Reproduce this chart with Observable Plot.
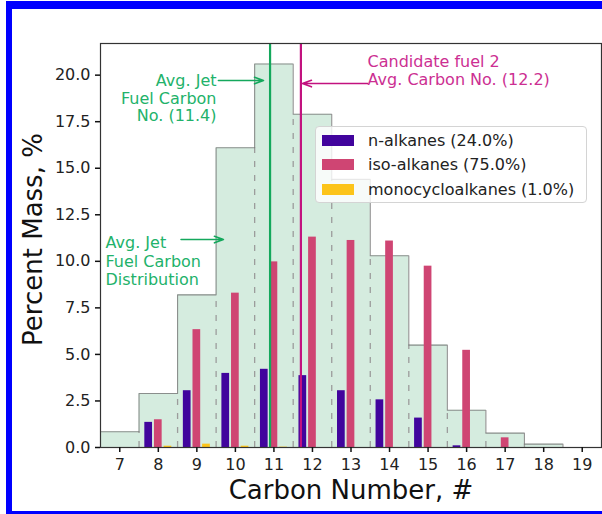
<!DOCTYPE html>
<html><head><meta charset="utf-8">
<script src="https://cdn.jsdelivr.net/npm/d3@7"></script>
<script src="https://cdn.jsdelivr.net/npm/@observablehq/plot@0.6"></script>
<style>
body{margin:0;background:#fff;}
#wrap{position:relative;width:602px;height:514px;overflow:hidden;font-family:"DejaVu Sans",sans-serif;}
#wrap svg{position:absolute;left:0;top:0;}
.bd{position:absolute;background:#0000ff;}
#legend{position:absolute;left:315px;top:126px;width:270px;height:75px;border:1px solid #d4d4d4;border-radius:4px;background:rgba(255,255,255,0.8);}
.row{position:absolute;left:0;height:20px;display:flex;align-items:center;font-size:16px;color:#222;white-space:nowrap;}
.sw{width:32px;height:11px;margin-left:6px;margin-right:14px;}
</style></head><body><div id="wrap"></div>
<script>
// ---- data ----
const carbonNumbers = [7, 8, 9, 10, 11, 12, 13, 14, 15, 16, 17, 18, 19];
const jetFuelDist   = [0.85, 2.9, 8.2, 16.1, 20.6, 17.9, 14.4, 10.3, 5.5, 2.0, 0.77, 0.18, 0.0];
const nAlkanes      = [0, 1.35, 3.05, 3.98, 4.2, 3.86, 3.05, 2.56, 1.58, 0.09, 0, 0, 0];
const isoAlkanes    = [0, 1.49, 6.33, 8.29, 9.97, 11.3, 11.12, 11.09, 9.74, 5.22, 0.52, 0, 0];
const monocyclo     = [0, 0.07, 0.18, 0.07, 0.02, 0, 0, 0, 0, 0, 0, 0, 0];
const seriesNames   = ["n-alkanes (24.0%)", "iso-alkanes (75.0%)", "monocycloalkanes (1.0%)"];
const seriesColors  = ["#41049d", "#cf4573", "#fcc41a"];
const avgJetCarbon = 11.4;
const candidateCarbon = 12.2;
const yTicks = [0, 2.5, 5, 7.5, 10, 12.5, 15, 17.5, 20];
const xTicks = carbonNumbers;
const annGreen1 = "Avg. Jet\nFuel Carbon\nNo. (11.4)";
const annGreen2 = "Avg. Jet\nFuel Carbon\nDistribution";
const annMagenta = "Candidate fuel 2\nAvg. Carbon No. (12.2)";

// ---- derived tables ----
const binOffset = 0.5; // lines drawn at bin-edge convention of the original
const stepPts = [];
carbonNumbers.forEach((c, i) => {
  stepPts.push({x: c - 0.5, y: jetFuelDist[i]});
  stepPts.push({x: c + 0.5, y: jetFuelDist[i]});
});
const edges = carbonNumbers.slice(0, -1).map((c, i) => ({x: c + 0.5, top: Math.min(jetFuelDist[i], jetFuelDist[i + 1])})).filter(d => d.top > 0);
const series = [nAlkanes, isoAlkanes, monocyclo];
const offsets = [-0.25, 0, 0.25];
const bars = [];
series.forEach((vals, s) => carbonNumbers.forEach((c, i) => {
  if (vals[i] > 0) bars.push({c, v: vals[i], s: seriesNames[s], off: offsets[s]});
}));

const green = "#14a85c", greenText = "#22b26a", mag = "#c2127f", magText = "#cc2f92";

const chart = Plot.plot({
  width: 602, height: 514,
  marginLeft: 100, marginRight: 1, marginTop: 43, marginBottom: 67,
  style: {fontFamily: "DejaVu Sans", fontSize: "16px", color: "#222", background: "transparent"},
  x: {domain: [6.5, 19.5], ticks: xTicks, tickFormat: d3.format("d"), tickSize: 5, tickPadding: 6, label: null},
  y: {domain: [0, 21.7], ticks: yTicks, tickFormat: d3.format(".1f"), tickSize: 5, tickPadding: 5, label: null},
  color: {domain: seriesNames, range: seriesColors},
  marks: [
    Plot.areaY(stepPts, {x: "x", y1: 0, y2: "y", fill: "#d5ecdf", curve: "linear"}),
    Plot.ruleX(edges, {x: "x", y1: 0, y2: "top", stroke: "#9c9c9c", strokeWidth: 1.3, strokeDasharray: "6,8"}),
    Plot.lineY(stepPts, {x: "x", y: "y", stroke: "#777", strokeWidth: 1.1, strokeOpacity: 0.8}),
    Plot.rectY(bars, {x1: d => d.c + d.off - 0.1, x2: d => d.c + d.off + 0.1, y: "v", fill: "s"}),
    Plot.ruleX([avgJetCarbon - binOffset], {stroke: green, strokeWidth: 2.2}),
    Plot.ruleX([candidateCarbon - binOffset], {stroke: mag, strokeWidth: 2.2}),
    Plot.arrow([0], {x1: 9.56, y1: 19.71, x2: 10.73, y2: 19.71, stroke: green, strokeWidth: 1.6, headLength: 9, headAngle: 40}),
    Plot.arrow([0], {x1: 8.59, y1: 11.17, x2: 9.69, y2: 11.17, stroke: green, strokeWidth: 1.6, headLength: 9, headAngle: 40}),
    Plot.arrow([0], {x1: 13.43, y1: 19.55, x2: 11.74, y2: 19.55, stroke: mag, strokeWidth: 1.6, headLength: 9, headAngle: 40}),
    Plot.text([annGreen1], {x: 9.51, y: 18.76, text: d => d, textAnchor: "end", lineAnchor: "middle", lineHeight: 1.1, fill: greenText, fontSize: 16}),
    Plot.text([annGreen2], {x: 6.63, y: 10.02, text: d => d, textAnchor: "start", lineAnchor: "middle", lineHeight: 1.15, fill: greenText, fontSize: 16}),
    Plot.text([annMagenta], {x: 13.43, y: 20.28, text: d => d, textAnchor: "start", lineAnchor: "middle", lineHeight: 1.15, fill: magText, fontSize: 16}),
    Plot.frame({stroke: "#333", strokeWidth: 1.2}),
    Plot.axisX({ticks: xTicks, tickFormat: d3.format("d"), tickSize: 5, tickPadding: 6, stroke: "#111", strokeWidth: 1.5, label: null}),
    Plot.axisY({ticks: yTicks, tickFormat: d3.format(".1f"), tickSize: 5, tickPadding: 5, stroke: "#111", strokeWidth: 1.5, label: null}),
    Plot.text(["Carbon Number, #"], {frameAnchor: "bottom", text: d => d, dy: 43, lineAnchor: "middle", textAnchor: "middle", fontSize: 26, fill: "#111"}),
    Plot.text(["Percent Mass, %"], {frameAnchor: "left", text: d => d, rotate: -90, dx: -67, dy: -6, lineAnchor: "middle", textAnchor: "middle", fontSize: 26, fill: "#111"})
  ]
});
const wrap = document.getElementById("wrap");
wrap.appendChild(chart);

// legend (inside plot area, upper right)
const leg = document.createElement("div");
leg.id = "legend";
seriesNames.forEach((name, i) => {
  const r = document.createElement("div");
  r.className = "row";
  r.style.top = (3 + i * 24.5) + "px";
  const sw = document.createElement("div");
  sw.className = "sw";
  sw.style.background = seriesColors[i];
  const t = document.createElement("span");
  t.textContent = name;
  r.appendChild(sw); r.appendChild(t);
  leg.appendChild(r);
});
wrap.appendChild(leg);

// blue picture border
[[6, 1, 596, 8], [6, 1, 6, 513], [6, 511, 596, 3]].forEach(([l, t, w, h]) => {
  const b = document.createElement("div");
  b.className = "bd";
  Object.assign(b.style, {left: l + "px", top: t + "px", width: w + "px", height: h + "px"});
  wrap.appendChild(b);
});
</script></body></html>
